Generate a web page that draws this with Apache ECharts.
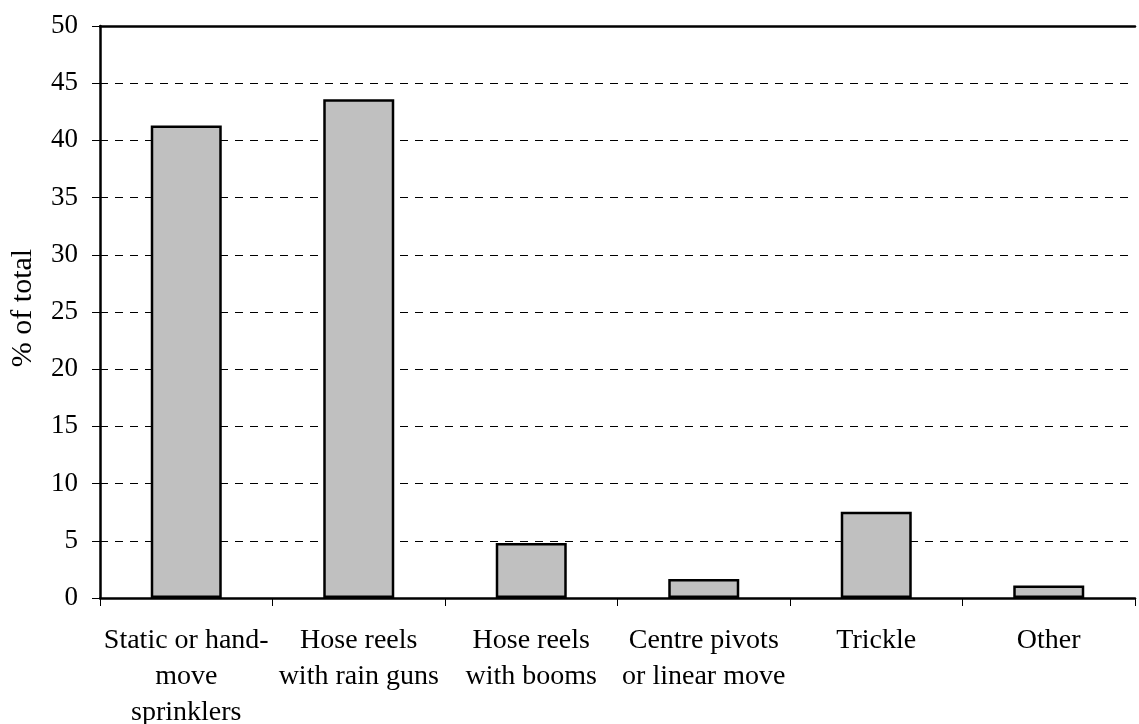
<!DOCTYPE html>
<html><head><meta charset="utf-8">
<script src="https://cdn.jsdelivr.net/npm/echarts@6/dist/echarts.min.js"></script>
<style>html,body{margin:0;padding:0;background:#fff}#c{width:1139px;height:724px}</style>
</head><body><div id="c"></div>
<script>
const categories = ["Static or hand-\nmove\nsprinklers", "Hose reels\nwith rain guns", "Hose reels\nwith booms", "Centre pivots\nor linear move", "Trickle", "Other"];
const values = [41.3, 43.6, 4.8, 1.65, 7.55, 1.1];
const yTicks = {min: 0, max: 50, interval: 5};
const yTitle = "% of total";

const font = "Liberation Serif";
const chart = echarts.init(document.getElementById('c'), null, {renderer: 'canvas'});
chart.setOption({
  animation: false,
  backgroundColor: '#fff',
  grid: {left: 100, right: 4, top: 26, bottom: 126, containLabel: false, outerBoundsMode: 'none'},
  xAxis: [{
    type: 'category', data: categories, position: 'bottom',
    axisLine: {lineStyle: {color: '#000', width: 2.5}},
    axisTick: {show: true, length: 8, lineStyle: {color: '#000', width: 1}},
    axisLabel: {color: '#000', fontFamily: font, fontSize: 28, lineHeight: 36, margin: 25, interval: 0, align: 'center'}
  }, {
    type: 'category', data: categories, position: 'top',
    axisLine: {show: true, lineStyle: {color: '#000', width: 2.5}},
    axisTick: {show: false}, axisLabel: {show: false}
  }],
  yAxis: {
    type: 'value', min: yTicks.min, max: yTicks.max, interval: yTicks.interval,
    name: yTitle, nameLocation: 'middle', nameGap: 62, nameRotate: 90,
    nameTextStyle: {color: '#000', fontFamily: font, fontSize: 30, padding: [0, 0, 0, 8]},
    axisLine: {show: true, lineStyle: {color: '#000', width: 2.5}},
    axisTick: {show: true, inside: false, length: 8, lineStyle: {color: '#000', width: 1}},
    axisLabel: {color: '#000', fontFamily: font, fontSize: 27, margin: 22},
    splitLine: {show: true, lineStyle: {color: '#000', width: 1, type: [8, 7]}}
  },
  series: [{
    type: 'bar', data: values, xAxisIndex: 0, barWidth: 71,
    itemStyle: {color: '#c0c0c0', borderColor: '#000', borderWidth: 2.5}
  }]
});
</script></body></html>
